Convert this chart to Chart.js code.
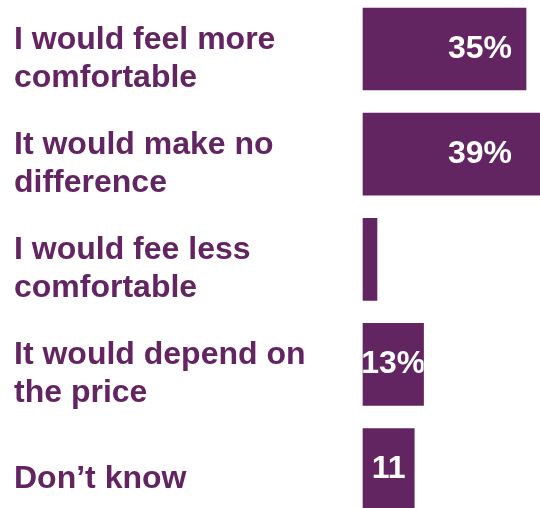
<!DOCTYPE html>
<html>
<head>
<meta charset="utf-8">
<script src="https://cdn.jsdelivr.net/npm/chart.js@4/dist/chart.umd.min.js"></script>
<style>
  html, body { margin: 0; padding: 0; background: #ffffff; }
  #wrap { width: 540px; height: 508px; position: relative; }
</style>
</head>
<body>
<div id="wrap"><canvas id="chart"></canvas></div>
<script>
// Survey answers, one bar per answer
const categories = [
  ["I would feel more", "comfortable"],
  ["It would make no", "difference"],
  ["I would fee less", "comfortable"],
  ["It would depend on", "the price"],
  ["Don\u2019t know"]
];
const values = [35, 39, 3, 13, 11];
const valueLabels = ["35%", "39%", "", "13%", "11"];

const PURPLE = "#632462";
const FONT = "'Liberation Sans', Arial, Helvetica, sans-serif";

// White value text inside each bar, clipped to the bar itself
const barValueLabels = {
  id: "barValueLabels",
  afterDatasetsDraw(chart) {
    const ctx = chart.ctx;
    const meta = chart.getDatasetMeta(0);
    const xScale = chart.scales.x;
    const column = xScale.getPixelForValue(32);
    meta.data.forEach((bar, i) => {
      const text = valueLabels[i];
      if (!text) return;
      const left = Math.min(bar.base, bar.x);
      const w = Math.abs(bar.x - bar.base);
      const top = bar.y - bar.height / 2;
      ctx.save();
      ctx.beginPath();
      ctx.rect(left, top, w, bar.height);
      ctx.clip();
      ctx.fillStyle = "#ffffff";
      ctx.font = "bold 32px " + FONT;
      ctx.textBaseline = "middle";
      if (w > 120) {
        ctx.textAlign = "right";
        ctx.fillText(text, column, bar.y);
      } else {
        ctx.textAlign = "center";
        ctx.fillText(text, left + w / 2, bar.y);
      }
      ctx.restore();
    });
  }
};

new Chart(document.getElementById("chart"), {
  type: "bar",
  data: {
    labels: categories,
    datasets: [{
      data: values,
      backgroundColor: PURPLE,
      borderWidth: 0,
      barThickness: 82,
      clip: false
    }]
  },
  options: {
    indexAxis: "y",
    responsive: true,
    maintainAspectRatio: false,
    animation: false,
    events: [],
    layout: { padding: { left: 14, top: 49, bottom: 36, right: 0 } },
    plugins: {
      legend: { display: false },
      tooltip: { enabled: false }
    },
    scales: {
      x: {
        type: "linear",
        min: 0,
        max: 38,
        display: false
      },
      y: {
        offset: false,
        grid: { display: false },
        border: { display: false },
        afterFit(scale) { scale.width = 349; },
        ticks: {
          autoSkip: false,
          crossAlign: "far",
          padding: 0,
          labelOffset: 10,
          color: PURPLE,
          font: { family: FONT, size: 32, weight: "bold", lineHeight: 1.2 }
        }
      }
    }
  },
  plugins: [barValueLabels]
});
</script>
</body>
</html>
